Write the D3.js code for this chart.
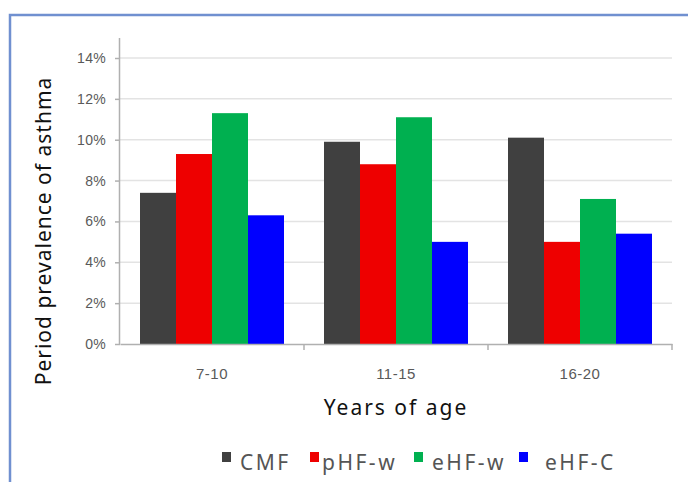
<!DOCTYPE html>
<html>
<head>
<meta charset="utf-8">
<script src="https://cdn.jsdelivr.net/npm/d3@7"></script>
<style>
  body { margin: 0; background: #fff; }
  svg { display: block; }
</style>
</head>
<body>
<svg id="chart" width="688" height="482"></svg>
<script>
const ageGroups = ['7-10', '11-15', '16-20'];
const seriesNames = ['CMF', 'pHF-w', 'eHF-w', 'eHF-C'];
const cmf = [7.4, 9.9, 10.1];
const phfW = [9.3, 8.8, 5.0];
const ehfW = [11.3, 11.1, 7.1];
const ehfC = [6.3, 5.0, 5.4];
const yTicks = [0, 2, 4, 6, 8, 10, 12, 14];
const seriesColors = ['#404040', '#ee0000', '#00b050', '#0000ff'];

const seriesValues = [cmf, phfW, ehfW, ehfC];
const rows = ageGroups.map((g, i) => ({
  group: g,
  values: seriesNames.map((s, j) => ({ key: s, value: seriesValues[j][i] }))
}));

const svg = d3.select('#chart');
const margin = { left: 120, right: 16, top: 58, bottom: 138 };
const width = 688 - margin.left - margin.right;
const height = 482 - margin.top - margin.bottom;

// frame
svg.append('path')
  .attr('d', 'M10,482 V15 H688')
  .attr('fill', 'none')
  .attr('stroke', '#7090d0')
  .attr('stroke-width', 2.5);

const g = svg.append('g').attr('transform', `translate(${margin.left},${margin.top})`);

const x0 = d3.scaleBand().domain(ageGroups).range([0, width]).padding(0);
const x1 = d3.scaleBand().domain(seriesNames).range([20, x0.bandwidth() - 20]).padding(0);
const y = d3.scaleLinear().domain([0, 14]).range([height, 0]);
const color = d3.scaleOrdinal().domain(seriesNames).range(seriesColors);

// gridlines
g.append('g')
  .selectAll('line')
  .data(yTicks.slice(1))
  .join('line')
  .attr('x1', 0).attr('x2', width)
  .attr('y1', d => y(d)).attr('y2', d => y(d))
  .attr('stroke', '#e3e3e3')
  .attr('stroke-width', 1.5);

// bars
g.append('g')
  .selectAll('g')
  .data(rows)
  .join('g')
  .attr('transform', d => `translate(${x0(d.group)},0)`)
  .selectAll('rect')
  .data(d => d.values)
  .join('rect')
  .attr('x', d => x1(d.key))
  .attr('width', x1.bandwidth())
  .attr('y', d => y(d.value))
  .attr('height', d => height - y(d.value))
  .attr('fill', d => color(d.key));

const tickFont = '"Liberation Sans", Arial, sans-serif';

// y axis
const yAxis = g.append('g')
  .call(d3.axisLeft(y).tickValues(yTicks).tickFormat(d => d + '%').tickSize(5).tickPadding(9));
yAxis.select('.domain').attr('stroke', '#b0b0b0').attr('stroke-width', 1.5).attr('d', `M-0.5,-20V${height + 0.5}`);
yAxis.selectAll('.tick line').attr('stroke', '#b0b0b0').attr('stroke-width', 1.5);
yAxis.selectAll('.tick text')
  .attr('fill', '#595959')
  .style('font-family', tickFont)
  .style('font-size', '14px')
  .style('letter-spacing', '0.3px');

// x axis
const xAxis = g.append('g')
  .attr('transform', `translate(0,${height})`)
  .call(d3.axisBottom(x0).tickSize(0).tickPadding(24));
xAxis.select('.domain').attr('stroke', '#b0b0b0').attr('stroke-width', 1.5);
xAxis.selectAll('.tick text')
  .attr('fill', '#595959')
  .style('font-family', tickFont)
  .style('font-size', '15px')
  .style('letter-spacing', '0.5px');
xAxis.selectAll('.sep')
  .data(ageGroups)
  .join('line')
  .attr('class', 'sep')
  .attr('x1', d => x0(d) + x0.bandwidth()).attr('x2', d => x0(d) + x0.bandwidth())
  .attr('y1', 0).attr('y2', 6)
  .attr('stroke', '#b0b0b0').attr('stroke-width', 1.5);

// axis titles
svg.append('text')
  .attr('transform', 'translate(51,231) rotate(-90)')
  .attr('text-anchor', 'middle')
  .attr('fill', '#111')
  .style('font-family', '"Noto Sans", sans-serif')
  .style('font-size', '21px')
  .style('letter-spacing', '1px')
  .text('Period prevalence of asthma');

svg.append('text')
  .attr('x', 396).attr('y', 415)
  .attr('text-anchor', 'middle')
  .attr('fill', '#111')
  .style('font-family', '"Noto Sans", sans-serif')
  .style('font-size', '21px')
  .style('letter-spacing', '2px')
  .text('Years of age');

// legend
const legendPos = [222, 310, 414, 519];
const legendText = [240, 322, 432, 545];
const legend = svg.append('g');
seriesNames.forEach((s, i) => {
  legend.append('rect')
    .attr('x', legendPos[i]).attr('y', 452)
    .attr('width', 9).attr('height', 10)
    .attr('fill', color(s));
  legend.append('text')
    .attr('x', legendText[i]).attr('y', 470)
    .attr('fill', '#555')
    .style('font-family', '"Noto Sans", sans-serif')
    .style('font-size', '21px')
    .style('letter-spacing', '2.5px')
    .text(s);
});
</script>
</body>
</html>
